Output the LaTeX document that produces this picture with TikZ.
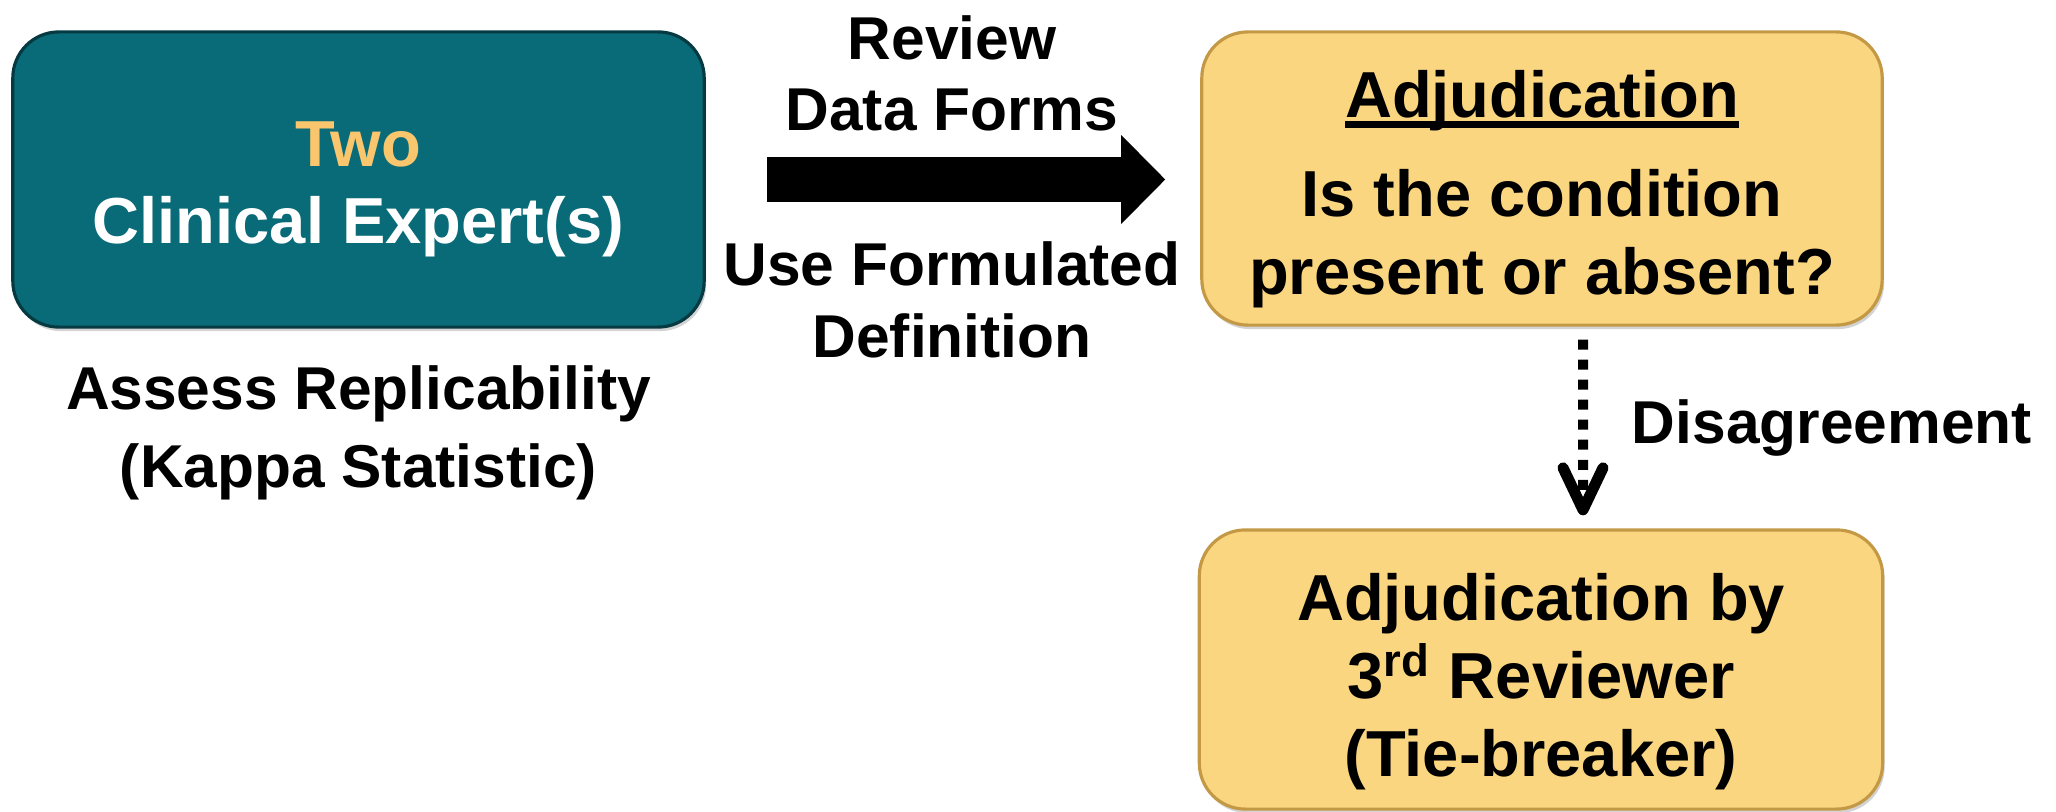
\documentclass[tikz,border=0pt]{standalone}
\usepackage{fontspec}
\setmainfont{Liberation Sans}
\usetikzlibrary{arrows.meta,positioning,shadows}

\definecolor{expteal}{RGB}{9,107,120}
\definecolor{exptealdark}{RGB}{6,58,66}
\definecolor{adjsand}{RGB}{251,214,128}
\definecolor{adjsanddark}{RGB}{196,153,70}
\definecolor{twogold}{RGB}{249,198,110}

% thick underline as in the slide
\newcommand{\ulword}[1]{\begingroup\setbox0\hbox{#1}\rlap{\rule[-3.1pt]{\wd0}{2.2pt}}\box0\endgroup}

\tikzset{
  roundbox/.style={rounded corners=0.46cm, line width=0.9pt, inner sep=0pt, align=center,
    font=\bfseries\fontsize{18.5}{22.1}\selectfont,
    drop shadow={shadow xshift=0.02cm, shadow yshift=-0.04cm, opacity=0.35}},
  flowlabel/.style={inner sep=0pt, align=center, font=\bfseries\fontsize{17.2}{20.2}\selectfont},
  bigarrow/.style={line width=0.44cm, -{Triangle[length=0.44cm,width=0.89cm,line width=0pt]}},
  dotarrow/.style={line width=0.1cm, dash pattern=on 0.1cm off 0.1cm,
    -{Straight Barb[length=0.42cm,width=0.40cm,line width=0.11cm,round]}}
}

\begin{document}
\begin{tikzpicture}[x=0.01cm, y=-0.01cm]
\useasboundingbox (0,0) rectangle (2056,812);

% boxes
\node[roundbox, fill=expteal, draw=exptealdark, text=white, minimum width=6.91cm, minimum height=2.95cm]
  (expert) at (358.5,179.5) {\rule{0pt}{18.4pt}\textcolor{twogold}{Two}\\Clinical Expert(s)};
\node[roundbox, fill=adjsand, draw=adjsanddark, minimum width=6.80cm, minimum height=2.93cm]
  (adjud) at (1542,178.5) {\rule{0pt}{19.5pt}\ulword{Adjudication}\\[6.2pt]Is the condition\\present or absent?};
\node[roundbox, fill=adjsand, draw=adjsanddark, minimum width=6.83cm, minimum height=2.79cm]
  (tiebreak) at (1541,669.5) {\rule{0pt}{20.4pt}Adjudication by\\3\textsuperscript{rd} Reviewer\\(Tie-breaker)};

% labels
\node[flowlabel, anchor=north] (review) at (952,15) {Review\\Data Forms};
\node[flowlabel, anchor=north, font=\bfseries\fontsize{17.2}{20.4}\selectfont] (usedef) at (952,241) {Use Formulated\\Definition};
\node[flowlabel, below=0.36cm of expert, font=\bfseries\fontsize{17.2}{22.4}\selectfont] (replic) {Assess Replicability\\(Kappa Statistic)};
\node[flowlabel, anchor=base] (disagree) at (1832,443) {Disagreement};

% connectors
\draw[bigarrow, shorten <=0.61cm, shorten >=0.35cm] (expert.east) -- (expert.east -| adjud.west);
\draw[dotarrow, shorten <=0.13cm, shorten >=0.13cm] ([xshift=0.41cm]adjud.south) -- ([xshift=0.42cm]tiebreak.north);
\end{tikzpicture}
\end{document}
